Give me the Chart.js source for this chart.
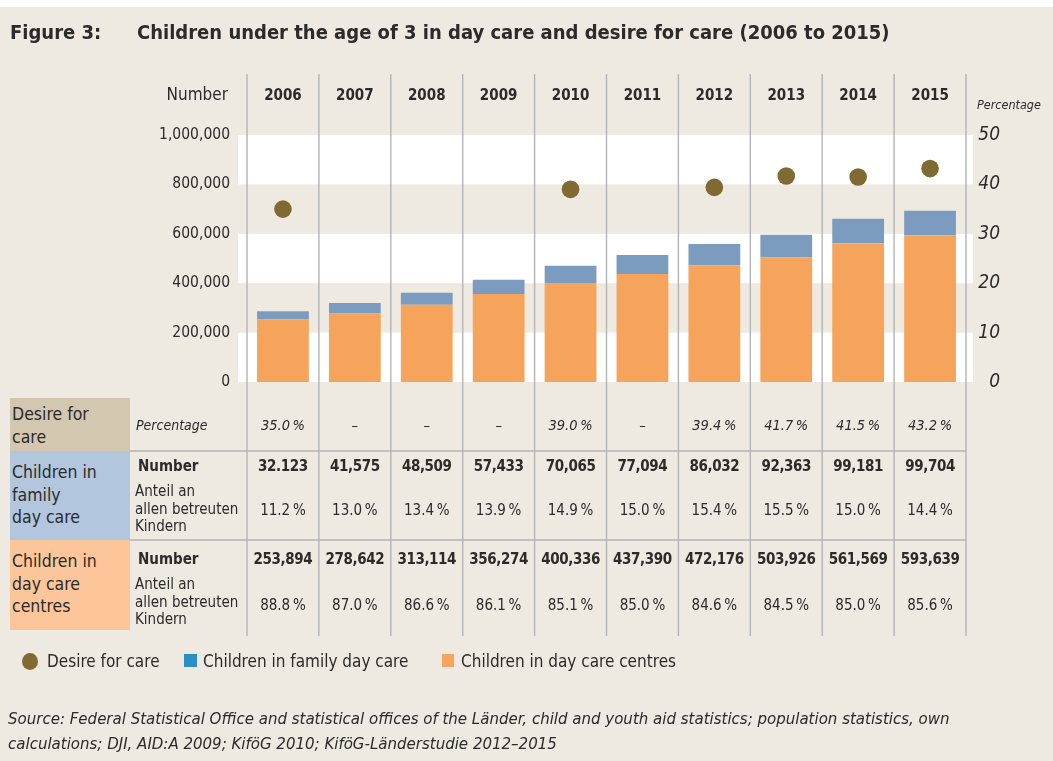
<!DOCTYPE html>
<html>
<head>
<meta charset="utf-8">
<script src="https://cdn.jsdelivr.net/npm/chart.js@4.4.1/dist/chart.umd.min.js"></script>
<style>
	html, body { margin: 0; padding: 0; background: #eee9e1; overflow: hidden; width: 100%; height: 100%; }
	body { position: relative; font-family: 'DejaVu Sans Condensed', 'DejaVu Sans', sans-serif; color: #2b2b2b; }
	#chart { position: absolute; left: 0; top: 0; }
	.t { position: absolute; white-space: nowrap; }
	.cell { position: absolute; }
	.topstrip { position: absolute; left: 0; top: 0; width: 100%; height: 7px; background: #fff; }
	.title { position: absolute; top: 20px; font-family: 'DejaVu Sans Condensed', sans-serif; font-weight: bold; font-size: 20px; color: #2b2b2b; }
</style>
</head>
<body>
<div class="topstrip"></div>
<canvas id="chart" width="1053" height="761"></canvas>
<div class="title" style="left:10px">Figure 3:</div>
<div class="title" style="left:137px">Children under the age of 3 in day care and desire for care (2006 to 2015)</div>
<div id="overlay"></div>
<script>
const years = ['2006', '2007', '2008', '2009', '2010', '2011', '2012', '2013', '2014', '2015'];
const desireForCare = [35.0, null, null, null, 39.0, null, 39.4, 41.7, 41.5, 43.2];
const familyDayCare = [32123, 41575, 48509, 57433, 70065, 77094, 86032, 92363, 99181, 99704];
const familyShare = [11.2, 13.0, 13.4, 13.9, 14.9, 15.0, 15.4, 15.5, 15.0, 14.4];
const dayCareCentres = [253894, 278642, 313114, 356274, 400336, 437390, 472176, 503926, 561569, 593639];
const centresShare = [88.8, 87.0, 86.6, 86.1, 85.1, 85.0, 84.6, 84.5, 85.0, 85.6];
const numberTicks = [0, 200000, 400000, 600000, 800000, 1000000];
const percentTicks = [0, 10, 20, 30, 40, 50];

const FONT = 'DejaVu Sans Condensed';
const COLORS = {
	desire: '#806a32',
	family: '#7b9cbf',
	centres: '#f6a35b',
	grid: '#b4b4b6',
	band: '#ffffff'
};

const fmtNum = v => v.toLocaleString('en-US');
const fmtPct = v => v.toFixed(1) + '\u2009%';

// white bands + column lines + table rules
const framePlugin = {
	id: 'frame',
	beforeDatasetsDraw(chart) {
		const {ctx, chartArea: a, scales: {x, y}} = chart;
		ctx.save();
		ctx.fillStyle = COLORS.band;
		for (const v of [0, 400000, 800000]) {
			const top = y.getPixelForValue(v + 200000), bottom = y.getPixelForValue(v);
			ctx.fillRect(a.left - 9, top, a.right - a.left + 16, bottom - top);
		}
		ctx.strokeStyle = COLORS.grid;
		ctx.lineWidth = 1.4;
		const edges = [a.left];
		for (let i = 1; i < years.length; i++) {
			edges.push((x.getPixelForValue(i - 1) + x.getPixelForValue(i)) / 2);
		}
		edges.push(a.right);
		ctx.beginPath();
		for (const e of edges) {
			ctx.moveTo(e, 74);
			ctx.lineTo(e, 636);
		}
		for (const ry of [451, 540]) {
			ctx.moveTo(130, ry);
			ctx.lineTo(a.right, ry);
		}
		ctx.stroke();
		ctx.restore();
	}
};

const chart = new Chart(document.getElementById('chart'), {
	data: {
		labels: years,
		datasets: [{
			type: 'line',
			label: 'Desire for care',
			data: desireForCare,
			yAxisID: 'y1',
			showLine: false,
			pointRadius: 8.8,
			pointBorderWidth: 0,
			pointBackgroundColor: COLORS.desire,
			order: 0
		},{
			type: 'bar',
			label: 'Children in day care centres',
			data: dayCareCentres,
			yAxisID: 'y',
			stack: 'care',
			backgroundColor: COLORS.centres,
			barPercentage: 0.72,
			categoryPercentage: 1,
			order: 1
		},{
			type: 'bar',
			label: 'Children in family day care',
			data: familyDayCare,
			yAxisID: 'y',
			stack: 'care',
			backgroundColor: COLORS.family,
			barPercentage: 0.72,
			categoryPercentage: 1,
			order: 2
		}]
	},
	options: {
		responsive: false,
		devicePixelRatio: 1,
		animation: false,
		events: [],
		layout: { padding: { top: 135, bottom: 379, left: 0, right: 53 } },
		plugins: { legend: { display: false }, tooltip: { enabled: false } },
		scales: {
			x: { type: 'category', display: false, offset: true, stacked: true },
			y: {
				position: 'left',
				stacked: true,
				min: 0,
				max: 1000000,
				afterBuildTicks: s => { s.ticks = numberTicks.map(v => ({value: v})); },
				afterFit: s => { s.width = 247; },
				grid: { display: false, drawTicks: false },
				border: { display: false },
				ticks: {
					padding: 17,
					color: '#2b2b2b',
					font: { family: FONT, size: 15.5 },
					callback: v => fmtNum(v)
				}
			},
			y1: {
				position: 'right',
				min: 0,
				max: 50,
				afterBuildTicks: s => { s.ticks = percentTicks.map(v => ({value: v})); },
				afterFit: s => { s.width = 34; },
				grid: { display: false, drawTicks: false },
				border: { display: false },
				ticks: {
					padding: 13,
					crossAlign: 'far',
					color: '#2b2b2b',
					font: { family: FONT, size: 19, style: 'italic' }
				}
			}
		}
	},
	plugins: [framePlugin]
});

// table and labels as real text, aligned to the chart's x scale
const overlay = document.getElementById('overlay');
function put(html, left, cy, css) {
	const d = document.createElement('div');
	d.className = 't';
	d.innerHTML = html;
	d.style.left = left + 'px';
	d.style.top = (cy - 11) + 'px';
	d.style.lineHeight = '22px';
	Object.assign(d.style, css || {});
	overlay.appendChild(d);
	return d;
}
function putCol(text, i, cy, css) {
	const cx = chart.scales.x.getPixelForValue(i);
	return put(text, cx - 36, cy, Object.assign({width: '72px', textAlign: 'center'}, css));
}
function box(left, top, w, h, bg) {
	const d = document.createElement('div');
	d.className = 'cell';
	Object.assign(d.style, {left: left + 'px', top: top + 'px', width: w + 'px', height: h + 'px', background: bg});
	overlay.appendChild(d);
}

// header
put('Number', 0, 94, {width: '228px', textAlign: 'right', fontSize: '17px'});
years.forEach((yr, i) => putCol(yr, i, 95, {fontWeight: 'bold', fontSize: '15px'}));
put('Percentage', 977, 105, {fontStyle: 'italic', fontSize: '12.5px'});

// row labels
box(10, 398, 120, 53, '#d3c7b0');
box(10, 451, 120, 89, '#b2c6dd');
box(10, 540, 120, 90, '#fcc69a');
const lbl = {fontSize: '17.5px', lineHeight: '22.5px'};
put('Desire for<br>care', 12, 0, Object.assign({}, lbl, {top: '403px'}));
put('Children in<br>family<br>day care', 12, 0, Object.assign({}, lbl, {top: '461px'}));
put('Children in<br>day care<br>centres', 12, 0, Object.assign({}, lbl, {top: '550px'}));

const sub = {fontSize: '15px', lineHeight: '17.5px'};
put('Percentage', 136, 425, {fontStyle: 'italic', fontSize: '14px'});
put('Number', 138, 466, {fontWeight: 'bold', fontSize: '15px'});
put('Anteil an<br>allen betreuten<br>Kindern', 135, 0, Object.assign({}, sub, {top: '483px'}));
put('Number', 138, 559, {fontWeight: 'bold', fontSize: '15px'});
put('Anteil an<br>allen betreuten<br>Kindern', 135, 0, Object.assign({}, sub, {top: '576px'}));

const numCss = {fontWeight: 'bold', fontSize: '15px', letterSpacing: '-0.4px'};
desireForCare.forEach((v, i) => putCol(v === null ? '\u2013' : fmtPct(v), i, 425, {fontStyle: 'italic', fontSize: '14.5px'}));
familyDayCare.forEach((v, i) => putCol(i === 0 ? '32.123' : fmtNum(v), i, 466, numCss));
familyShare.forEach((v, i) => putCol(fmtPct(v), i, 510, {fontSize: '15px'}));
dayCareCentres.forEach((v, i) => putCol(fmtNum(v), i, 559, numCss));
centresShare.forEach((v, i) => putCol(fmtPct(v), i, 605, {fontSize: '15px'}));

// legend
const legendFont = {fontSize: '17px'};
const dot = document.createElement('div');
Object.assign(dot.style, {position: 'absolute', left: '22px', top: '653px', width: '16px', height: '17px', borderRadius: '50%', background: COLORS.desire});
overlay.appendChild(dot);
box(184, 654, 13, 13, '#2b8fc6');
box(442, 654, 12, 13, '#f8a35e');
put('Desire for care', 47, 661, legendFont);
put('Children in family day care', 203, 661, legendFont);
put('Children in day care centres', 461, 661, legendFont);

// source
const src = {fontStyle: 'italic', fontSize: '16.7px'};
put('Source: Federal Statistical Office and statistical offices of the L\u00e4nder, child and youth aid statistics; population statistics, own', 8, 718, src);
put('calculations; DJI, AID:A 2009; Kif\u00f6G 2010; Kif\u00f6G-L\u00e4nderstudie 2012\u20132015', 8, 743, src);
</script>
</body>
</html>
